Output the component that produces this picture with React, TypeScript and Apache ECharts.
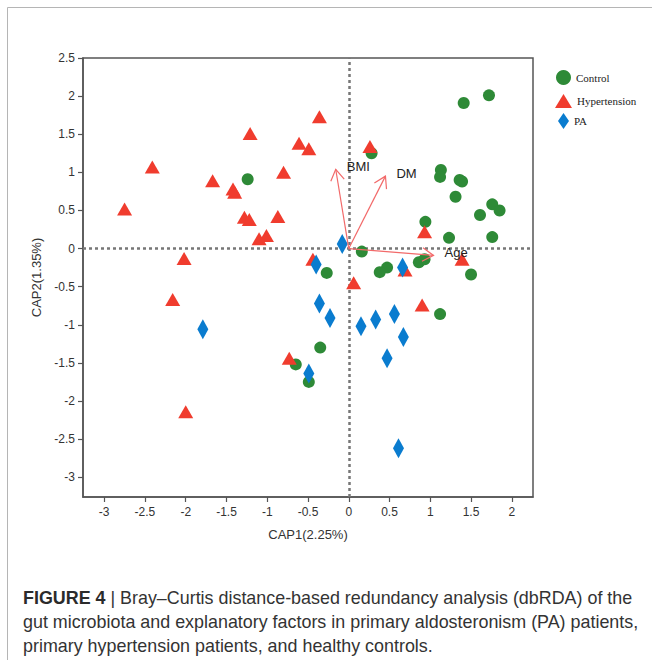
import React, { useEffect, useRef } from "react";
import * as echarts from "echarts";

const controlPoints: number[][] = [
  [1.72, 2.01], [1.41, 1.91], [0.28, 1.25], [1.13, 1.03], [1.12, 0.94],
  [1.36, 0.9], [1.39, 0.88], [1.31, 0.68], [1.76, 0.58], [1.85, 0.5],
  [1.61, 0.44], [0.94, 0.35], [1.23, 0.14], [1.76, 0.15], [0.16, -0.04],
  [0.47, -0.25], [0.38, -0.31], [0.86, -0.18], [0.93, -0.14], [1.5, -0.34],
  [1.12, -0.86], [-1.24, 0.91], [-0.27, -0.32], [-0.35, -1.3], [-0.65, -1.52],
  [-0.49, -1.75],
];

const hypertensionPoints: number[][] = [
  [-0.36, 1.73], [-1.21, 1.51], [-0.61, 1.38], [-0.49, 1.31], [-2.41, 1.07],
  [-0.8, 1.0], [-1.67, 0.89], [-1.42, 0.78], [-1.4, 0.74], [-2.75, 0.52],
  [-1.28, 0.41], [-1.22, 0.38], [-0.87, 0.42], [-1.1, 0.13], [-1.01, 0.17],
  [-2.02, -0.13], [-0.44, -0.14], [-2.16, -0.67], [-2.0, -2.14], [-0.73, -1.44],
  [0.06, -0.45], [0.26, 1.34], [0.93, 0.22], [1.39, -0.14], [0.69, -0.28],
  [0.9, -0.74],
];

const paPoints: number[][] = [
  [-0.08, 0.06], [-0.4, -0.21], [-0.36, -0.72], [-0.23, -0.91], [-1.79, -1.06],
  [-0.49, -1.64], [0.15, -1.02], [0.33, -0.93], [0.56, -0.86], [0.67, -1.16],
  [0.47, -1.44], [0.61, -2.62], [0.66, -0.25],
];

const factorNames = ["BMI", "DM", "Age"];
const factorVectors: number[][] = [
  [-0.16, 1.04],
  [0.45, 0.95],
  [1.04, -0.09],
];

const xTicks = [-3, -2.5, -2, -1.5, -1, -0.5, 0, 0.5, 1, 1.5, 2];
const yTicks = [-3, -2.5, -2, -1.5, -1, -0.5, 0, 0.5, 1, 1.5, 2, 2.5];
const xRange = [-3.26, 2.26];
const yRange = [-3.26, 2.5];

const seriesNames = ["Control", "Hypertension", "PA"];
const xAxisName = "CAP1(2.25%)";
const yAxisName = "CAP2(1.35%)";
const captionLines = [
  " | Bray\u2013Curtis distance-based redundancy analysis (dbRDA) of the",
  "gut microbiota and explanatory factors in primary aldosteronism (PA) patients,",
  "primary hypertension patients, and healthy controls.",
];

const GREEN = "#2E8A37";
const RED = "#F03C2E";
const BLUE = "#0A7CCF";
const ARROW = "#F26A6A";
const SANS = "Liberation Sans, Arial, sans-serif";
const SERIF = "Liberation Serif, Times New Roman, serif";
const CAPTION_SIZE = 17.9;

export default function App() {
  const ref = useRef<HTMLDivElement>(null);

  useEffect(() => {
    if (!ref.current) return;
    const chart = echarts.init(ref.current, undefined, { renderer: "svg" });

    const axisCommon = {
      type: "value" as const,
      splitLine: { show: false },
      axisLine: { show: true, onZero: false, lineStyle: { color: "#555", width: 1.5 } },
      axisTick: { show: true, inside: false, length: 5, lineStyle: { color: "#555", width: 1.2 } },
      axisLabel: { color: "#333", fontSize: 12, fontFamily: SANS },
      nameTextStyle: { color: "#333", fontSize: 13, fontFamily: SANS },
      nameLocation: "middle" as const,
    };

    const legendText = { fontFamily: SERIF, fontSize: 11, color: "#222" };

    chart.setOption({
      animation: false,
      backgroundColor: "#fff",
      grid: {
        left: 83,
        top: 58,
        width: 450,
        height: 439,
        show: true,
        borderColor: "#555",
        borderWidth: 1.5,
        containLabel: false,
      },
      xAxis: {
        ...axisCommon,
        min: xRange[0],
        max: xRange[1],
        name: xAxisName,
        nameGap: 31,
        axisTick: { ...axisCommon.axisTick, customValues: xTicks },
        axisLabel: { ...axisCommon.axisLabel, margin: 9, customValues: xTicks },
      },
      yAxis: {
        ...axisCommon,
        min: yRange[0],
        max: yRange[1],
        name: yAxisName,
        nameGap: 38,
        axisTick: { ...axisCommon.axisTick, customValues: yTicks },
        axisLabel: { ...axisCommon.axisLabel, margin: 8, customValues: yTicks },
      },
      legend: [
        {
          data: [{ name: seriesNames[0], icon: "circle" }],
          left: 556,
          top: 70,
          padding: 0,
          itemWidth: 15,
          itemHeight: 15,
          textStyle: legendText,
          selectedMode: false,
        },
        {
          data: [{ name: seriesNames[1], icon: "triangle" }],
          left: 555,
          top: 94,
          padding: 0,
          itemWidth: 17,
          itemHeight: 14,
          textStyle: legendText,
          selectedMode: false,
        },
        {
          data: [{ name: seriesNames[2], icon: "diamond" }],
          left: 558,
          top: 113,
          padding: 0,
          itemWidth: 11,
          itemHeight: 16,
          textStyle: legendText,
          selectedMode: false,
        },
      ],
      series: [
        {
          name: seriesNames[0],
          type: "scatter",
          data: controlPoints,
          symbol: "circle",
          symbolSize: 12,
          itemStyle: { color: GREEN, opacity: 1 },
          z: 3,
          markLine: {
            silent: true,
            symbol: ["none", "none"],
            label: { show: false },
            lineStyle: { color: "#777", type: [3, 3], width: 2.5 },
            data: [{ xAxis: 0 }, { yAxis: 0 }],
            z: 1,
          },
        },
        {
          name: seriesNames[1],
          type: "scatter",
          data: hypertensionPoints,
          symbol: "triangle",
          symbolSize: [15, 13],
          itemStyle: { color: RED, opacity: 1 },
          z: 3,
        },
        {
          name: seriesNames[2],
          type: "scatter",
          data: paPoints,
          symbol: "diamond",
          symbolSize: [11, 20],
          itemStyle: { color: BLUE, opacity: 1 },
          z: 3,
        },
        {
          type: "custom",
          data: factorVectors,
          z: 5,
          silent: true,
          renderItem: (params: any, api: any) => {
            const o = api.coord([0, 0]);
            const t = api.coord([api.value(0), api.value(1)]);
            const ang = Math.atan2(t[1] - o[1], t[0] - o[0]);
            const L = 13;
            const a = 0.55;
            const p1 = [t[0] - L * Math.cos(ang - a), t[1] - L * Math.sin(ang - a)];
            const p2 = [t[0] - L * Math.cos(ang + a), t[1] - L * Math.sin(ang + a)];
            return {
              type: "group",
              children: [
                {
                  type: "line",
                  shape: { x1: o[0], y1: o[1], x2: t[0], y2: t[1] },
                  style: { stroke: ARROW, lineWidth: 1.2 },
                },
                {
                  type: "polyline",
                  shape: { points: [p1, t, p2] },
                  style: { stroke: ARROW, lineWidth: 1.2, fill: null },
                },
                {
                  type: "text",
                  x: t[0] + 11,
                  y: t[1] - 3,
                  style: {
                    text: factorNames[params.dataIndex],
                    fill: "#222",
                    fontSize: 13,
                    fontFamily: SANS,
                    verticalAlign: "middle",
                    align: "left",
                  },
                },
              ],
            };
          },
        },
      ],
      graphic: [
        {
          type: "rect",
          shape: { x: 7.5, y: 7.5, width: 700, height: 700 },
          style: { fill: "none", stroke: "#b5b5b5", lineWidth: 1 },
          silent: true,
          z: -1,
        },
        {
          type: "text",
          x: 23,
          y: 598,
          style: {
            text: "{b|FIGURE 4}{n|" + captionLines[0] + "}",
            verticalAlign: "middle",
            rich: {
              b: { fontSize: CAPTION_SIZE, fontWeight: "bold", fontFamily: SANS, fill: "#2b2b2b" },
              n: { fontSize: CAPTION_SIZE, fontFamily: SANS, fill: "#333" },
            },
          },
        },
        {
          type: "text",
          x: 23,
          y: 622,
          style: {
            text: captionLines[1],
            verticalAlign: "middle",
            fontSize: CAPTION_SIZE,
            fontFamily: SANS,
            fill: "#333",
          },
        },
        {
          type: "text",
          x: 23,
          y: 646,
          style: {
            text: captionLines[2],
            verticalAlign: "middle",
            fontSize: CAPTION_SIZE,
            fontFamily: SANS,
            fill: "#333",
          },
        },
      ],
    });

    return () => chart.dispose();
  }, []);

  return (
    <div
      ref={ref}
      style={{ position: "fixed", left: 0, top: 0, width: 652, height: 660, background: "#fff" }}
    />
  );
}
